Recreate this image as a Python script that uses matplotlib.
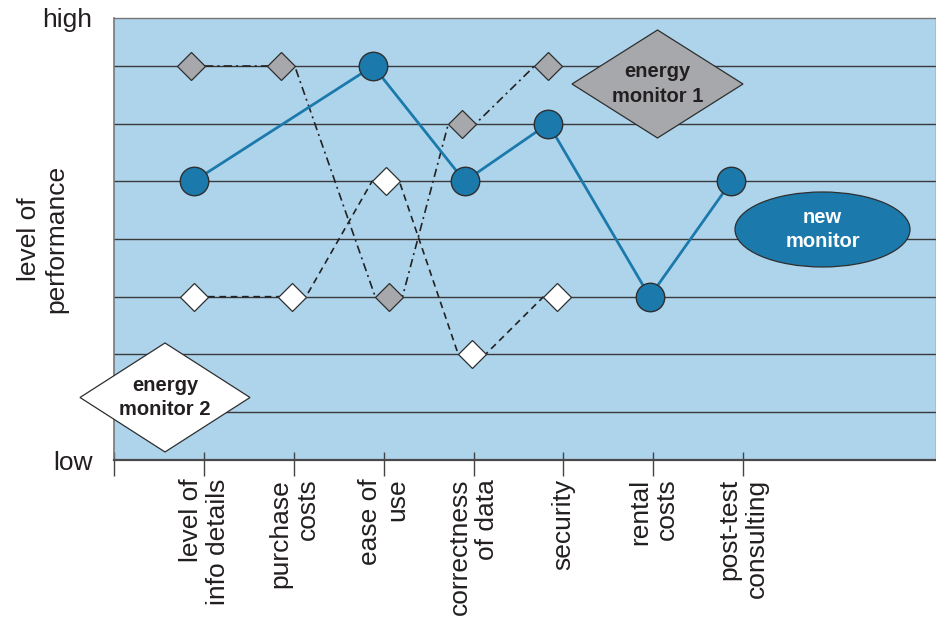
import matplotlib
matplotlib.use("Agg")
import matplotlib.pyplot as plt
from matplotlib.patches import Polygon, Ellipse

plt.rcParams['font.family'] = ['Liberation Sans', 'DejaVu Sans']

# criteria on the horizontal axis
categories = ["level of\ninfo details", "purchase\ncosts", "ease of\nuse",
              "correctness\nof data", "security", "rental\ncosts",
              "post-test\nconsulting"]
level_names = ["low", "high"]

# performance levels (1 = lowest grid line ... 7 = highest grid line)
new_monitor_idx = [0, 2, 3, 4, 5, 6]
new_monitor = [5, 7, 5, 6, 3, 5]
monitor1_idx = [0, 1, 2, 3, 4]
monitor1 = [7, 7, 3, 6, 7]
monitor2_idx = [0, 1, 2, 3, 4]
monitor2 = [3, 3, 5, 2, 3]

# horizontal nudges so markers of the series sit beside their ticks
new_nudge = [-0.12, -0.12, -0.10, -0.17, -0.04, -0.13]
m1_nudge = [-0.145, -0.145, 0.055, -0.13, -0.17]
m2_nudge = [-0.11, -0.02, 0.02, -0.02, -0.07]

W, H = 937, 618
AX_L, AX_R, AX_T, AX_B = 114.5, 936.0, 18.0, 460.0
PX_X = 89.8      # pixels per category step
PX_Y = 57.67     # pixels per level step

BG = '#aed4ec'
BLUE = '#1b7aab'
GRAY = '#a7a8ab'
EDGE = '#2e2e2e'
TXT = '#231f20'

fig = plt.figure(figsize=(W / 100, H / 100), dpi=100)
ax = fig.add_axes([AX_L / W, (H - AX_B) / H, (AX_R - AX_L) / W, (AX_B - AX_T) / H])
ax.set_facecolor(BG)

xmax = (AX_R - AX_L) / PX_X
ymin = 1 - (AX_B - 412) / PX_Y
ymax = 7 + (66 - AX_T) / PX_Y
ax.set_xlim(0, xmax)
ax.set_ylim(ymin, ymax)


def to_data(xp, yp):
    return (xp - AX_L) / PX_X, 7 - (yp - 66) / PX_Y


# horizontal level lines
for lv in range(1, 8):
    ax.axhline(lv, color='#3a3a3a', lw=1.0, zorder=1)

# diamond markers: lines run from the right vertex of one to the left vertex of the next
D_SIZE = 13.9
half = (D_SIZE * 1.4142 / 2) / 72 * 100 / PX_X


def diamond_polyline(idx, vals, nudge):
    xs = [i + 1 + n for i, n in zip(idx, nudge)]
    px, py = [], []
    for k, (x, y) in enumerate(zip(xs, vals)):
        if k > 0:
            px.append(x - half)
            py.append(y)
        if k < len(xs) - 1:
            px.append(x + half)
            py.append(y)
    return xs, px, py


xs1, lx1, ly1 = diamond_polyline(monitor1_idx, monitor1, m1_nudge)
ax.plot(lx1, ly1, color='#222222', lw=1.2, linestyle=(0, (5, 2.5, 1.2, 2.5)), zorder=3)
ax.plot(xs1, monitor1, linestyle='none', marker='D', ms=D_SIZE, mfc=GRAY,
        mec=EDGE, mew=0.9, zorder=5)

xs2, lx2, ly2 = diamond_polyline(monitor2_idx, monitor2, m2_nudge)
ax.plot(lx2, ly2, color='#222222', lw=1.2, linestyle=(0, (4, 2.8)), zorder=3)
ax.plot(xs2, monitor2, linestyle='none', marker='D', ms=D_SIZE, mfc='white',
        mec=EDGE, mew=0.9, zorder=5)

xs_new = [i + 1 + n for i, n in zip(new_monitor_idx, new_nudge)]
ax.plot(xs_new, new_monitor, color=BLUE, lw=2.0, zorder=4)
ax.plot(xs_new, new_monitor, linestyle='none', marker='o', ms=20.5, mfc=BLUE,
        mec=EDGE, mew=1.0, zorder=6)

# legend-like shapes
cx, cy = to_data(657.5, 84)
hw, hh = 85.5 / PX_X, 54 / PX_Y
ax.add_patch(Polygon([(cx - hw, cy), (cx, cy + hh), (cx + hw, cy), (cx, cy - hh)],
                     closed=True, fc=GRAY, ec=EDGE, lw=0.9, zorder=7, clip_on=False))
ax.text(cx, cy, "energy\nmonitor 1", ha='center', va='center', fontsize=14.5,
        fontweight='bold', color=TXT, zorder=8, linespacing=1.35)

cx, cy = to_data(165, 397.5)
hw, hh = 85 / PX_X, 54.5 / PX_Y
ax.add_patch(Polygon([(cx - hw, cy), (cx, cy + hh), (cx + hw, cy), (cx, cy - hh)],
                     closed=True, fc='white', ec=EDGE, lw=0.9, zorder=7, clip_on=False))
ax.text(cx, cy, "energy\nmonitor 2", ha='center', va='center', fontsize=14.5,
        fontweight='bold', color=TXT, zorder=8, clip_on=False, linespacing=1.35)

cx, cy = to_data(822.5, 229.5)
ax.add_patch(Ellipse((cx, cy), 175 / PX_X, 75 / PX_Y, fc=BLUE, ec=EDGE, lw=0.9,
                     zorder=7))
ax.text(cx, cy, "new\nmonitor", ha='center', va='center', fontsize=14.5,
        fontweight='bold', color='white', zorder=8, linespacing=1.35)

# axes styling
for side in ['top', 'right']:
    ax.spines[side].set_color('#777777')
    ax.spines[side].set_linewidth(1.0)
ax.spines['left'].set_color('#777777')
ax.spines['left'].set_linewidth(1.2)
ax.spines['bottom'].set_color('#4a4a4a')
ax.spines['bottom'].set_linewidth(1.6)

ticks = [0] + [i + 1 for i in range(len(categories))]
ax.set_xticks(ticks)
ax.set_xticklabels([""] + categories, rotation=90, va='top', ha='center',
                   fontsize=19, color=TXT, linespacing=1.15)
for lbl in ax.get_xticklabels():
    lbl.set_multialignment('right')
ax.set_xticks(ticks, minor=True)
ax.xaxis.remove_overlapping_locs = False
ax.tick_params(axis='x', which='major', direction='out', length=11.5, width=1.0,
               color='#444444', pad=2)
ax.tick_params(axis='x', which='minor', direction='in', length=5.8, width=1.0,
               color='#444444')

ax.set_yticks([ymin, ymax])
ax.set_yticklabels(level_names, fontsize=19, color=TXT)
ax.tick_params(axis='y', length=0, pad=16)

ylab = ax.set_ylabel("level of\nperformance", fontsize=19, color=TXT,
                     linespacing=1.15)
ylab.set_multialignment('center')
ax.yaxis.set_label_coords((68 - AX_L) / (AX_R - AX_L), 0.5)

fig.savefig("out.png", dpi=100)
